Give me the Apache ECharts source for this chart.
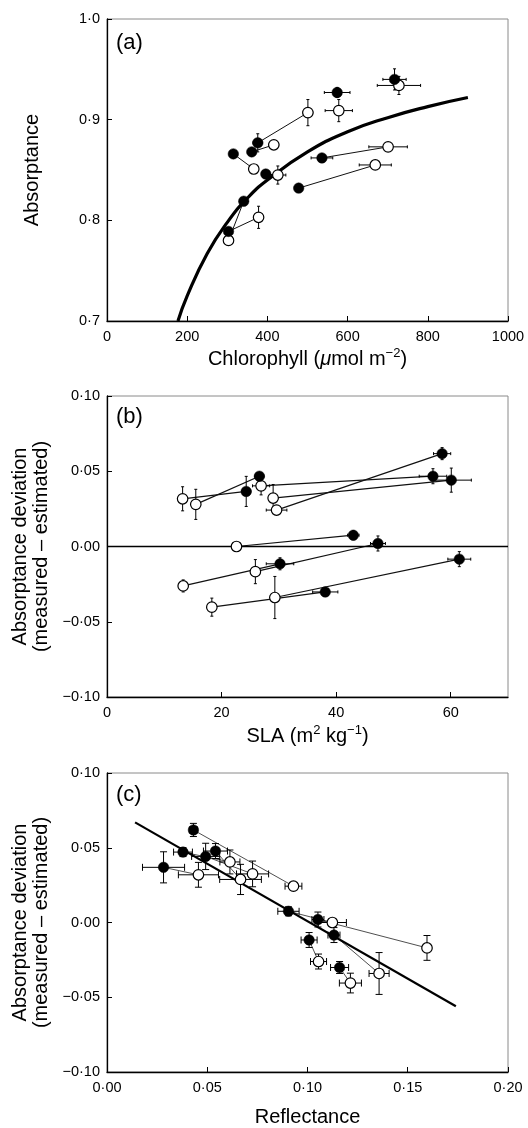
<!DOCTYPE html>
<html>
<head>
<meta charset="utf-8">
<script src="https://cdn.jsdelivr.net/npm/echarts@6/dist/echarts.min.js"></script>
<style>
  html, body { margin: 0; padding: 0; background: #fff; }
  #chart { width: 528px; height: 1128px; }
</style>
</head>
<body>
<div id="chart"></div>
<script>
// ---------- Panel (a): absorptance vs chlorophyll ----------
const aFilledX    = [717, 574, 376, 361, 315, 396, 536, 478, 341, 303];
const aFilledY    = [0.940, 0.927, 0.877, 0.868, 0.866, 0.846, 0.862, 0.832, 0.819, 0.789];
const aFilledXErr = [29, 32, 12, 10, 0, 8, 27, 0, 0, 8];
const aFilledYErr = [0.0105, 0.005, 0.009, 0.004, 0, 0.004, 0.003, 0, 0, 0.004];
const aOpenX      = [728, 578, 501, 416, 366, 426, 701, 669, 303, 378];
const aOpenY      = [0.934, 0.909, 0.907, 0.875, 0.851, 0.845, 0.873, 0.855, 0.780, 0.803];
const aOpenXErr   = [54, 34, 12, 12, 0, 20, 48, 40, 8, 12];
const aOpenYErr   = [0.009, 0.011, 0.013, 0.003, 0, 0.009, 0, 0, 0.003, 0.011];
const aLinked     = [0, 0, 1, 1, 1, 1, 1, 1, 1, 1];
const aCurveX     = [177, 200, 250, 300, 350, 400, 500, 600, 700, 800, 900];
const aCurveY     = [0.700, 0.725, 0.767, 0.798, 0.822, 0.840, 0.868, 0.888, 0.902, 0.913, 0.922];

// ---------- Panel (b): deviation vs SLA ----------
const bFilledX    = [58.5, 56.9, 60.1, 26.6, 24.3, 43.0, 47.3, 30.2, 61.5, 38.1];
const bFilledY    = [0.0617, 0.0467, 0.0441, 0.0467, 0.0366, 0.0075, 0.002, -0.0115, -0.0084, -0.0302];
const bFilledXErr = [1.5, 2.4, 3.5, 0.8, 0.8, 1.0, 1.3, 2.4, 2.0, 2.2];
const bFilledYErr = [0.004, 0.005, 0.008, 0.002, 0.010, 0.003, 0.005, 0.004, 0.005, 0.003];
const bOpenX      = [29.6, 26.9, 29.0, 15.5, 13.2, 22.6, 25.9, 13.3, 29.3, 18.3];
const bOpenY      = [0.0242, 0.0403, 0.0322, 0.028, 0.0317, 0.0, -0.0167, -0.0262, -0.0339, -0.0403];
const bOpenXErr   = [1.8, 1.5, 0.6, 0.6, 0.7, 0, 0.4, 0.6, 0.6, 0];
const bOpenYErr   = [0.001, 0.006, 0.009, 0.010, 0.008, 0, 0.008, 0.004, 0.014, 0.006];

// ---------- Panel (c): deviation vs reflectance ----------
const cFilledX    = [0.0431, 0.0379, 0.0492, 0.0541, 0.0282, 0.0905, 0.1052, 0.1008, 0.1132, 0.1160];
const cFilledY    = [0.0619, 0.0471, 0.0442, 0.0478, 0.0369, 0.0075, 0.002, -0.0117, -0.0084, -0.0301];
const cFilledXErr = [0.002, 0.0047, 0.007, 0.006, 0.0105, 0.0053, 0.003, 0.004, 0.003, 0.0045];
const cFilledYErr = [0.0044, 0.003, 0.0088, 0.005, 0.0104, 0.003, 0.005, 0.005, 0.005, 0.004];
const cOpenX      = [0.0930, 0.0613, 0.0726, 0.0666, 0.0456, 0.1124, 0.1596, 0.1055, 0.1357, 0.1214];
const cOpenY      = [0.0243, 0.0405, 0.0325, 0.0288, 0.0319, 0.0, -0.017, -0.0261, -0.0341, -0.0405];
const cOpenXErr   = [0.0042, 0.005, 0.008, 0.0104, 0.010, 0.007, 0.001, 0.004, 0.005, 0.0055];
const cOpenYErr   = [0.002, 0.008, 0.0086, 0.0101, 0.0083, 0.002, 0.0083, 0.005, 0.014, 0.0066];
const cFitX       = [0.014, 0.174];
const cFitY       = [0.067, -0.056];

// ---------- helpers ----------
const FONT = 'Liberation Sans, Arial, Helvetica, sans-serif';
const INK = '#000';
const fmt = (d) => (v) => {
  const s = Math.abs(v).toFixed(d).replace('.', '\u00B7');
  return (v < -1e-9 ? '\u2212' : '') + s;
};
const zip = (xs, ys) => xs.map((x, i) => [x, ys[i]]);
const errData = (xs, ys, ex, ey) => xs.map((x, i) => [x, ys[i], ex[i], ey[i]]);
const pairData = (fx, fy, ox, oy, linked) => {
  const out = [];
  fx.forEach((x, i) => { if (!linked || linked[i]) out.push([x, fy[i], ox[i], oy[i]]); });
  return out;
};

function errSeries(idx, data, cap, lw) {
  return {
    type: 'custom', xAxisIndex: idx, yAxisIndex: idx, z: 3,
    encode: { x: 0, y: 1 },
    data: data,
    renderItem: function (params, api) {
      const x = api.value(0), y = api.value(1), ex = api.value(2), ey = api.value(3);
      const st = { stroke: INK, lineWidth: lw, fill: null };
      const ch = [];
      if (ey > 0) {
        const p1 = api.coord([x, y - ey]), p2 = api.coord([x, y + ey]);
        ch.push({ type: 'line', shape: { x1: p1[0], y1: p1[1], x2: p2[0], y2: p2[1] }, style: st });
        ch.push({ type: 'line', shape: { x1: p1[0] - cap, y1: p1[1], x2: p1[0] + cap, y2: p1[1] }, style: st });
        ch.push({ type: 'line', shape: { x1: p2[0] - cap, y1: p2[1], x2: p2[0] + cap, y2: p2[1] }, style: st });
      }
      if (ex > 0) {
        const p1 = api.coord([x - ex, y]), p2 = api.coord([x + ex, y]);
        ch.push({ type: 'line', shape: { x1: p1[0], y1: p1[1], x2: p2[0], y2: p2[1] }, style: st });
        ch.push({ type: 'line', shape: { x1: p1[0], y1: p1[1] - cap, x2: p1[0], y2: p1[1] + cap }, style: st });
        ch.push({ type: 'line', shape: { x1: p2[0], y1: p2[1] - cap, x2: p2[0], y2: p2[1] + cap }, style: st });
      }
      return { type: 'group', children: ch };
    }
  };
}

function pairSeries(idx, data, lw, color) {
  return {
    type: 'custom', xAxisIndex: idx, yAxisIndex: idx, z: 2,
    encode: { x: [0, 2], y: [1, 3] },
    data: data,
    renderItem: function (params, api) {
      const p1 = api.coord([api.value(0), api.value(1)]);
      const p2 = api.coord([api.value(2), api.value(3)]);
      return { type: 'line', shape: { x1: p1[0], y1: p1[1], x2: p2[0], y2: p2[1] },
               style: { stroke: color, lineWidth: lw } };
    }
  };
}

function markerSeries(idx, data, filled) {
  return {
    type: 'scatter', xAxisIndex: idx, yAxisIndex: idx, z: 5,
    symbol: 'circle', symbolSize: 10.5,
    itemStyle: filled ? { color: INK, borderColor: INK, borderWidth: 0.5, opacity: 1 }
                      : { color: '#fff', borderColor: INK, borderWidth: 1.2, opacity: 1 },
    emphasis: { disabled: true },
    data: data
  };
}

const axisLineStyle = { show: true, onZero: false, lineStyle: { color: INK, width: 1.3 } };
const tickStyle = { show: true, inside: true, length: 5, lineStyle: { color: INK, width: 1 } };
const labelBase = { color: INK, fontSize: 14.5, fontFamily: FONT };

function xAxisDef(idx, min, max, interval, digits, name, gap, rich, showMax) {
  return {
    type: 'value', gridIndex: idx, min: min, max: max, interval: interval,
    axisLine: axisLineStyle, axisTick: tickStyle, splitLine: { show: false },
    axisLabel: Object.assign({}, labelBase, { margin: 8, formatter: fmt(digits), showMaxLabel: showMax }),
    name: name, nameLocation: 'middle', nameGap: gap,
    nameTextStyle: { color: INK, fontSize: 20, fontFamily: FONT, rich: rich }
  };
}
function yAxisDef(idx, min, max, interval, digits, name, gap, lh) {
  return {
    type: 'value', gridIndex: idx, min: min, max: max, interval: interval,
    axisLine: axisLineStyle, axisTick: tickStyle, splitLine: { show: false },
    axisLabel: Object.assign({}, labelBase, { margin: 7, formatter: fmt(digits) }),
    name: name, nameLocation: 'middle', nameGap: gap,
    nameTextStyle: { color: INK, fontSize: 20, fontFamily: FONT, lineHeight: lh }
  };
}

const richName = {
  n: { fontSize: 20, fontFamily: FONT, color: INK, lineHeight: 24 },
  i: { fontSize: 20, fontFamily: FONT, color: INK, fontStyle: 'italic', lineHeight: 24 },
  s: { fontSize: 13, fontFamily: FONT, color: INK, verticalAlign: 'top', lineHeight: 14 }
};

const gridBox = { show: true, borderColor: '#8a8a8a', borderWidth: 1, backgroundColor: 'transparent' };

const option = {
  animation: false,
  backgroundColor: '#fff',
  grid: [
    Object.assign({ left: 107, right: 20, top: 19, bottom: 807 }, gridBox),
    Object.assign({ left: 107, right: 20, top: 396, bottom: 431 }, gridBox),
    Object.assign({ left: 107, right: 20, top: 773, bottom: 55 }, gridBox)
  ],
  xAxis: [
    xAxisDef(0, 0, 1000, 200, 0, '{n|Chlorophyll (}{i|\u03BC}{n|mol m}{s|\u22122}{n|)}', 26, richName, true),
    xAxisDef(1, 0, 70, 20, 0, '{n|SLA (m}{s|2}{n| kg}{s|\u22121}{n|)}', 27, richName, false),
    xAxisDef(2, 0, 0.2, 0.05, 2, 'Reflectance', 35, null, true)
  ],
  yAxis: [
    yAxisDef(0, 0.7, 1.0, 0.1, 1, 'Absorptance', 64, 22),
    yAxisDef(1, -0.1, 0.1, 0.05, 2, 'Absorptance deviation\n(measured \u2013 estimated)', 55, 21),
    yAxisDef(2, -0.1, 0.1, 0.05, 2, 'Absorptance deviation\n(measured \u2013 estimated)', 55, 21)
  ],
  graphic: [
    { type: 'text', x: 116, y: 43, style: { text: '(a)', fontSize: 22, fontFamily: FONT, fill: INK, verticalAlign: 'middle', textVerticalAlign: 'middle' } },
    { type: 'text', x: 116, y: 417, style: { text: '(b)', fontSize: 22, fontFamily: FONT, fill: INK, verticalAlign: 'middle', textVerticalAlign: 'middle' } },
    { type: 'text', x: 116, y: 795, style: { text: '(c)', fontSize: 22, fontFamily: FONT, fill: INK, verticalAlign: 'middle', textVerticalAlign: 'middle' } }
  ],
  series: [
    // panel a
    { type: 'line', xAxisIndex: 0, yAxisIndex: 0, z: 4, smooth: true, showSymbol: false, symbol: 'none',
      lineStyle: { color: INK, width: 3.2 }, data: zip(aCurveX, aCurveY) },
    pairSeries(0, pairData(aFilledX, aFilledY, aOpenX, aOpenY, aLinked), 1, '#111'),
    errSeries(0, errData(aFilledX, aFilledY, aFilledXErr, aFilledYErr), 1.5, 1),
    errSeries(0, errData(aOpenX, aOpenY, aOpenXErr, aOpenYErr), 1.5, 1),
    markerSeries(0, zip(aOpenX, aOpenY), false),
    markerSeries(0, zip(aFilledX, aFilledY), true),
    // panel b
    { type: 'line', xAxisIndex: 1, yAxisIndex: 1, z: 2, showSymbol: false, symbol: 'none',
      lineStyle: { color: INK, width: 1.3 }, data: [[0, 0], [70, 0]] },
    pairSeries(1, pairData(bFilledX, bFilledY, bOpenX, bOpenY), 1.2, '#111'),
    errSeries(1, errData(bFilledX, bFilledY, bFilledXErr, bFilledYErr), 1.5, 1),
    errSeries(1, errData(bOpenX, bOpenY, bOpenXErr, bOpenYErr), 1.5, 1),
    markerSeries(1, zip(bOpenX, bOpenY), false),
    markerSeries(1, zip(bFilledX, bFilledY), true),
    // panel c
    { type: 'line', xAxisIndex: 2, yAxisIndex: 2, z: 4, showSymbol: false, symbol: 'none',
      lineStyle: { color: INK, width: 2.2 }, data: zip(cFitX, cFitY) },
    pairSeries(2, pairData(cFilledX, cFilledY, cOpenX, cOpenY), 0.8, '#222'),
    errSeries(2, errData(cFilledX, cFilledY, cFilledXErr, cFilledYErr), 3.5, 1),
    errSeries(2, errData(cOpenX, cOpenY, cOpenXErr, cOpenYErr), 3.5, 1),
    markerSeries(2, zip(cOpenX, cOpenY), false),
    markerSeries(2, zip(cFilledX, cFilledY), true)
  ]
};

const chart = echarts.init(document.getElementById('chart'), null, { renderer: 'canvas' });
chart.setOption(option);
</script>
</body>
</html>
